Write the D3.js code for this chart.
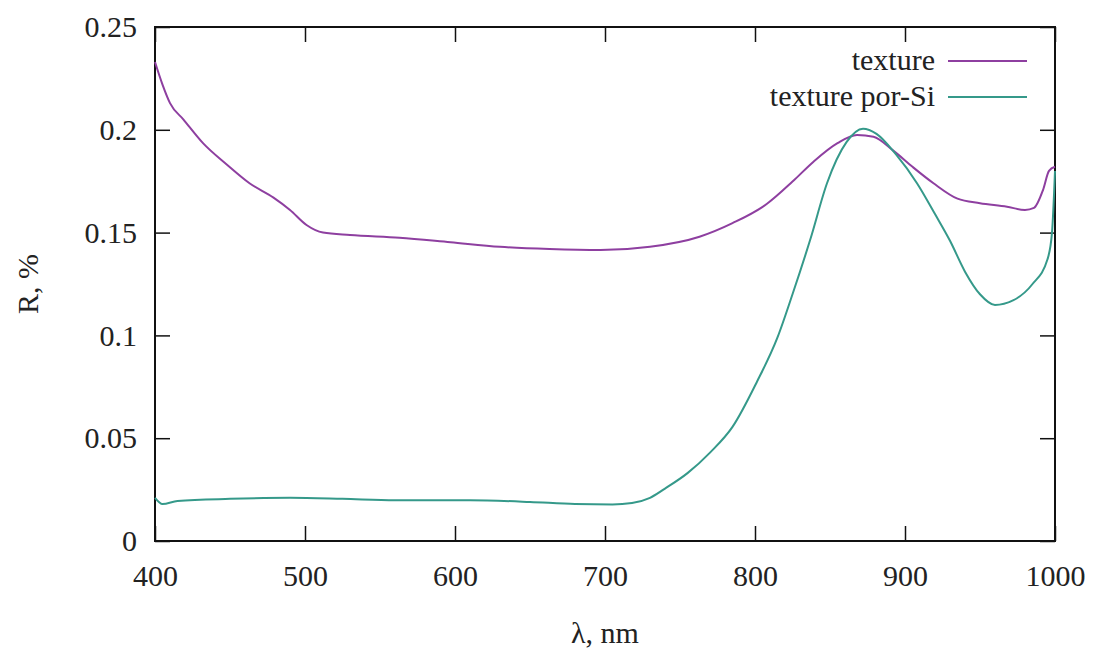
<!DOCTYPE html>
<html>
<head>
<meta charset="utf-8">
<script src="https://cdn.jsdelivr.net/npm/d3@7"></script>
<style>
    body { margin: 0; background: #fff; }
    svg text { font-family: "Liberation Serif", "Tinos", "Times New Roman", "DejaVu Serif", serif; fill: #222; }
</style>
</head>
<body>
<div id="chart"></div>
<script>
// wavelength (nm) and reflectance for each curve
const textureNm = [400, 405, 410, 419, 432, 448, 463, 479, 490, 501, 512, 530, 563, 597, 630, 663, 697, 730, 763, 785, 808, 825, 839, 855, 868, 879, 892, 905, 919, 935, 950, 968, 980, 986, 992, 996, 1000];
const textureR = [0.233, 0.222, 0.213, 0.205, 0.1935, 0.183, 0.174, 0.167, 0.161, 0.1537, 0.150, 0.1488, 0.1475, 0.1453, 0.1431, 0.142, 0.1415, 0.1431, 0.148, 0.1546, 0.164, 0.1748, 0.1845, 0.1935, 0.1975, 0.1966, 0.190, 0.182, 0.174, 0.1665, 0.1643, 0.1626, 0.161, 0.162, 0.1707, 0.180, 0.182];

const porSiNm = [400, 405, 415, 450, 490, 525, 560, 610, 650, 680, 705, 718, 730, 740, 755, 770, 785, 801, 815, 825, 837, 848, 861, 872, 881, 894, 908, 920, 930, 940, 950, 960, 972, 985, 995, 998, 1000];
const porSiR = [0.021, 0.018, 0.0195, 0.0205, 0.021, 0.0205, 0.0198, 0.0198, 0.019, 0.018, 0.0178, 0.0185, 0.021, 0.0255, 0.033, 0.043, 0.0555, 0.077, 0.099, 0.12, 0.147, 0.174, 0.194, 0.2005, 0.198, 0.188, 0.174, 0.159, 0.146, 0.131, 0.12, 0.1148, 0.117, 0.125, 0.137, 0.15, 0.18];

const seriesNames = ["texture", "texture por-Si"];
const seriesColors = ["#8e3fa0", "#35998a"];

const xTicks = [400, 500, 600, 700, 800, 900, 1000];
const yTicks = [0, 0.05, 0.1, 0.15, 0.2, 0.25];

const margin = { top: 27, right: 38, bottom: 110, left: 155 };
const width = 1093 - margin.left - margin.right;
const height = 651 - margin.top - margin.bottom;
const serif = "'Liberation Serif', 'Tinos', 'Times New Roman', 'DejaVu Serif', serif";

const svg = d3.select("#chart")
    .append("svg")
    .attr("width", 1093)
    .attr("height", 651)
    .append("g")
    .attr("transform", `translate(${margin.left},${margin.top})`);

const x = d3.scaleLinear().domain([400, 1000]).range([0, width]);
const y = d3.scaleLinear().domain([0, 0.25]).range([height, 0]);

const fontSize = 30;

// labelled axes
svg.append("g")
    .attr("class", "axis")
    .attr("transform", `translate(0,${height})`)
    .call(d3.axisBottom(x).tickValues(xTicks).tickSizeInner(-15).tickSizeOuter(0).tickPadding(24).tickFormat(d3.format("d")));

svg.append("g")
    .attr("class", "axis")
    .call(d3.axisLeft(y).tickValues(yTicks).tickSizeInner(-15).tickSizeOuter(0).tickPadding(18).tickFormat(d => d === 0 ? "0" : String(d)));

// mirror ticks on top and right
svg.append("g")
    .attr("class", "axis")
    .call(d3.axisTop(x).tickValues(xTicks).tickSizeInner(-15).tickSizeOuter(0).tickFormat(""));

svg.append("g")
    .attr("class", "axis")
    .attr("transform", `translate(${width},0)`)
    .call(d3.axisRight(y).tickValues(yTicks).tickSizeInner(-15).tickSizeOuter(0).tickFormat(""));

svg.selectAll(".axis")
    .attr("font-family", serif)
    .attr("font-size", fontSize);
svg.selectAll(".axis text")
    .attr("fill", "#222");
svg.selectAll(".axis .domain").remove();
svg.selectAll(".axis .tick line")
    .attr("stroke", "#111")
    .attr("stroke-width", 1.5);

svg.append("rect")
    .attr("x", 0)
    .attr("y", 0)
    .attr("width", width)
    .attr("height", height)
    .attr("fill", "none")
    .attr("stroke", "#111")
    .attr("stroke-width", 2);

const line = d3.line()
    .x(d => x(d[0]))
    .y(d => y(d[1]))
    .curve(d3.curveMonotoneX);

const series = [
    d3.zip(textureNm, textureR),
    d3.zip(porSiNm, porSiR)
];

svg.selectAll(".curve")
    .data(series)
    .enter()
    .append("path")
    .attr("class", "curve")
    .attr("d", line)
    .attr("fill", "none")
    .attr("stroke", (d, i) => seriesColors[i])
    .attr("stroke-width", 2);

// legend
const legend = svg.selectAll(".legend")
    .data(seriesNames)
    .enter()
    .append("g")
    .attr("class", "legend")
    .attr("transform", (d, i) => `translate(${935 - margin.left},${61 - margin.top + i * 36})`);

legend.append("text")
    .attr("x", 0)
    .attr("y", 0)
    .attr("dy", "0.3em")
    .attr("text-anchor", "end")
    .attr("font-family", serif)
    .attr("font-size", fontSize)
    .text(d => d);

legend.append("line")
    .attr("x1", 13)
    .attr("x2", 92)
    .attr("y1", 0)
    .attr("y2", 0)
    .attr("stroke", (d, i) => seriesColors[i])
    .attr("stroke-width", 2);

// axis titles
svg.append("text")
    .attr("x", width / 2)
    .attr("y", 643 - margin.top)
    .attr("text-anchor", "middle")
    .attr("font-family", serif)
    .attr("font-size", fontSize)
    .text("λ, nm");

svg.append("text")
    .attr("transform", `translate(${38 - margin.left},${height / 2}) rotate(-90)`)
    .attr("text-anchor", "middle")
    .attr("font-family", serif)
    .attr("font-size", fontSize)
    .text("R, %");
</script>
</body>
</html>
